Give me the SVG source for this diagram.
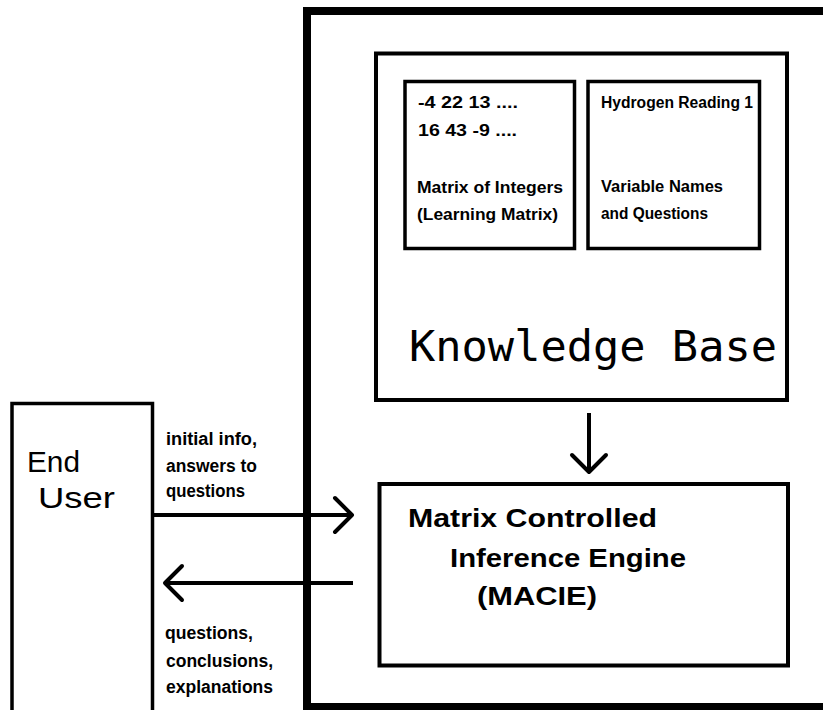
<svg xmlns="http://www.w3.org/2000/svg" width="823" height="710" viewBox="0 0 823 710">
  <style>
    .box { fill: none; stroke: #000; }
    .lbl { font-family: "Liberation Sans", Arial, sans-serif; font-weight: bold; fill: #000; }
    .small { font-size: 16px; }
    .side { font-size: 18px; }
    .eng { font-size: 25px; }
    .user { font-family: "Liberation Sans", Arial, sans-serif; font-size: 29px; fill: #000; }
    .kb { font-family: "DejaVu Sans Mono", "Liberation Mono", monospace; font-size: 43px; fill: #000; }
    .conn { fill: none; stroke: #000; stroke-width: 4; }
  </style>
  <defs>
    <marker id="vhead" markerUnits="userSpaceOnUse" markerWidth="44" markerHeight="44" refX="22" refY="22" orient="auto" overflow="visible">
      <path d="M5 5 L22 22 L5 39" fill="none" stroke="#000" stroke-width="4" stroke-linecap="round" stroke-linejoin="round"/>
    </marker>
  </defs>
  <rect width="823" height="710" fill="#fff"/>

  <g id="system">
    <path class="box" stroke-width="8" d="M830 11 L307 11 L307 707 L830 707"/>
  </g>

  <g id="knowledge-base">
    <rect class="box" stroke-width="4" x="376" y="53.5" width="411" height="346.5"/>
    <text class="kb" x="409" y="361" textLength="368" lengthAdjust="spacingAndGlyphs">Knowledge Base</text>
  </g>

  <g id="learning-matrix">
    <rect class="box" stroke-width="3.5" x="405" y="81.5" width="169.5" height="167"/>
    <text class="lbl small" x="418" y="108" textLength="100" lengthAdjust="spacingAndGlyphs">-4 22 13 ....</text>
    <text class="lbl small" x="418" y="136" textLength="99" lengthAdjust="spacingAndGlyphs">16 43 -9 ....</text>
    <text class="lbl small" x="417" y="193" textLength="146" lengthAdjust="spacingAndGlyphs">Matrix of Integers</text>
    <text class="lbl small" x="417" y="220" textLength="141" lengthAdjust="spacingAndGlyphs">(Learning Matrix)</text>
  </g>

  <g id="variable-names">
    <rect class="box" stroke-width="3.5" x="588" y="81.5" width="171.5" height="167"/>
    <text class="lbl small" x="601" y="108" textLength="152" lengthAdjust="spacingAndGlyphs">Hydrogen Reading 1</text>
    <text class="lbl small" x="601" y="192" textLength="122" lengthAdjust="spacingAndGlyphs">Variable Names</text>
    <text class="lbl small" x="601" y="219" textLength="107" lengthAdjust="spacingAndGlyphs">and Questions</text>
  </g>

  <g id="inference-engine">
    <rect class="box" stroke-width="4" x="379.5" y="484" width="408.5" height="181.5"/>
    <text class="lbl eng" x="408" y="527" textLength="249" lengthAdjust="spacingAndGlyphs">Matrix Controlled</text>
    <text class="lbl eng" x="450" y="567" textLength="236" lengthAdjust="spacingAndGlyphs">Inference Engine</text>
    <text class="lbl eng" x="477" y="605" textLength="120" lengthAdjust="spacingAndGlyphs">(MACIE)</text>
  </g>

  <g id="end-user">
    <path class="box" stroke-width="3.5" d="M12 715 L12 403.5 L152.5 403.5 L152.5 715"/>
    <text class="user" x="27" y="472" textLength="53" lengthAdjust="spacingAndGlyphs">End</text>
    <text class="user" x="38" y="508" textLength="77" lengthAdjust="spacingAndGlyphs">User</text>
  </g>

  <g id="connectors">
    <line class="conn" x1="589" y1="413" x2="589" y2="472" stroke-width="3.5" marker-end="url(#vhead)"/>
    <line class="conn" x1="154" y1="515" x2="352" y2="515" marker-end="url(#vhead)"/>
    <line class="conn" x1="353" y1="583" x2="165" y2="583" marker-end="url(#vhead)"/>
    <text class="lbl side" x="166" y="445" textLength="91" lengthAdjust="spacingAndGlyphs">initial info,</text>
    <text class="lbl side" x="166" y="472" textLength="91" lengthAdjust="spacingAndGlyphs">answers to</text>
    <text class="lbl side" x="166" y="497" textLength="79" lengthAdjust="spacingAndGlyphs">questions</text>
    <text class="lbl side" x="165" y="639" textLength="88" lengthAdjust="spacingAndGlyphs">questions,</text>
    <text class="lbl side" x="166" y="667" textLength="107" lengthAdjust="spacingAndGlyphs">conclusions,</text>
    <text class="lbl side" x="166" y="693" textLength="107" lengthAdjust="spacingAndGlyphs">explanations</text>
  </g>
</svg>
